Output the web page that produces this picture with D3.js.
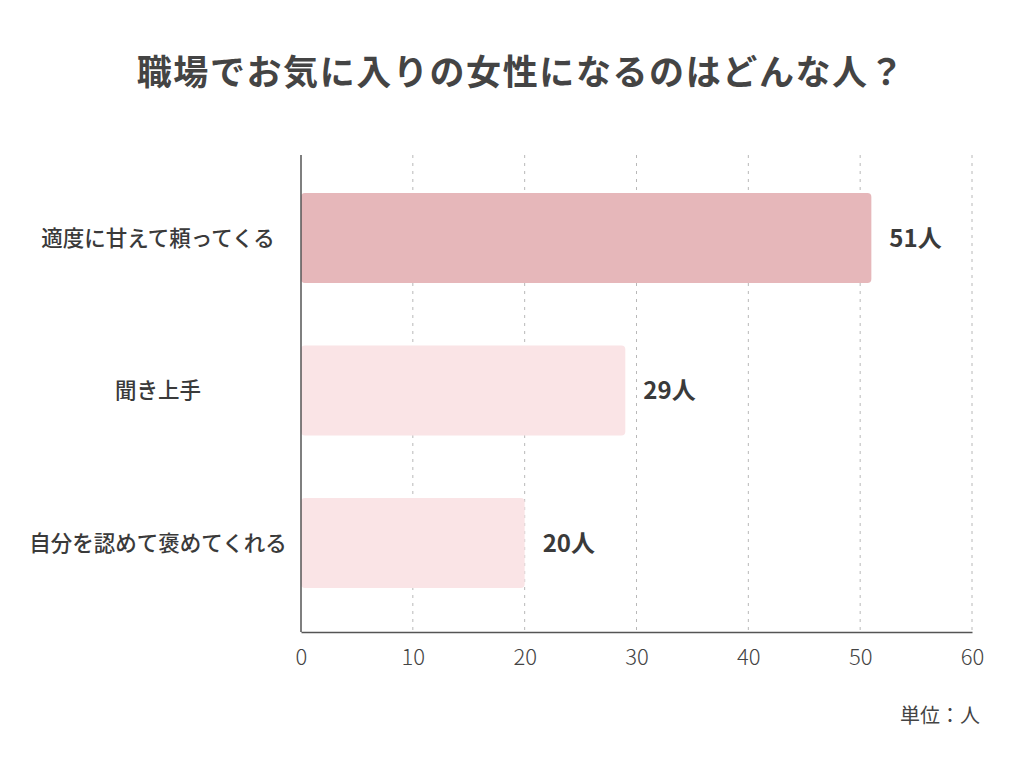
<!DOCTYPE html>
<html lang="ja">
<head>
    <meta charset="UTF-8">
    <title>職場でお気に入りの女性になるのはどんな人？</title>
    <script src="https://d3js.org/d3.v7.min.js"></script>
    <style>
        html, body {
            margin: 0;
            padding: 0;
            background: #fff;
            overflow: hidden;
        }
        svg text {
            font-family: "Noto Sans CJK JP", "Noto Sans", sans-serif;
            fill: #3a3a3a;
        }
    </style>
</head>
<body>
    <svg width="1024" height="768"></svg>
    <script>
        // data
        const categories = ["適度に甘えて頼ってくる", "聞き上手", "自分を認めて褒めてくれる"];
        const values = [51, 29, 20];
        const barColors = ["#e6b7ba", "#fae4e6", "#fae4e6"];
        const xTicks = [0, 10, 20, 30, 40, 50, 60];
        const titleText = "職場でお気に入りの女性になるのはどんな人？";
        const unitText = "単位：人";

        const svg = d3.select("svg");

        const x = d3.scaleLinear().domain([0, 60]).range([301, 972]);
        const y = d3.scaleBand()
            .domain(categories)
            .range([155, 626])
            .paddingInner(0.41)
            .paddingOuter(0.25);

        const plotTop = 155, plotBottom = 632;

        // title
        svg.append("text")
            .attr("x", 521)
            .attr("y", 85)
            .attr("text-anchor", "middle")
            .style("font-size", "35px")
            .style("font-weight", "bold")
            .style("letter-spacing", "1.6px")
            .style("fill", "#444")
            .text(titleText);

        // dashed grid
        svg.append("g")
            .selectAll("line")
            .data(xTicks.filter(d => d > 0))
            .join("line")
            .attr("x1", d => x(d))
            .attr("x2", d => x(d))
            .attr("y1", plotTop)
            .attr("y2", plotBottom)
            .attr("stroke", "#b8b8b8")
            .attr("stroke-width", 1)
            .attr("stroke-dasharray", "3,5");

        // bars
        svg.append("g")
            .selectAll("rect")
            .data(values)
            .join("rect")
            .attr("x", x(0))
            .attr("y", (d, i) => y(categories[i]))
            .attr("width", d => x(d) - x(0))
            .attr("height", y.bandwidth())
            .attr("rx", 4)
            .attr("fill", (d, i) => barColors[i]);

        // value labels
        svg.append("g")
            .selectAll("text")
            .data(values)
            .join("text")
            .attr("x", d => x(d) + 18)
            .attr("y", (d, i) => y(categories[i]) + y.bandwidth() / 2)
            .attr("dy", "0.36em")
            .style("font-size", "24px")
            .style("font-weight", "bold")
            .text(d => d + "人");

        // category labels
        svg.append("g")
            .selectAll("text")
            .data(categories)
            .join("text")
            .attr("x", 158)
            .attr("y", d => y(d) + y.bandwidth() / 2)
            .attr("dy", "0.36em")
            .attr("text-anchor", "middle")
            .style("font-size", "21.5px")
            .style("font-weight", "500")
            .text(d => d);

        // axes lines
        svg.append("line")
            .attr("x1", x(0)).attr("x2", x(0))
            .attr("y1", plotTop).attr("y2", plotBottom)
            .attr("stroke", "#555").attr("stroke-width", 1.5);

        const xAxis = svg.append("g")
            .attr("transform", `translate(0,${plotBottom})`)
            .call(d3.axisBottom(x).tickValues(xTicks).tickSize(0).tickPadding(17));
        xAxis.select(".domain").attr("stroke", "#555").attr("stroke-width", 1.5);
        xAxis.selectAll("text")
            .style("font-size", "22px")
            .style("font-weight", "300")
            .style("fill", "#444");

        // unit
        svg.append("text")
            .attr("x", 980)
            .attr("y", 723)
            .attr("text-anchor", "end")
            .style("font-size", "20px")
            .style("fill", "#444")
            .text(unitText);
    </script>
</body>
</html>
